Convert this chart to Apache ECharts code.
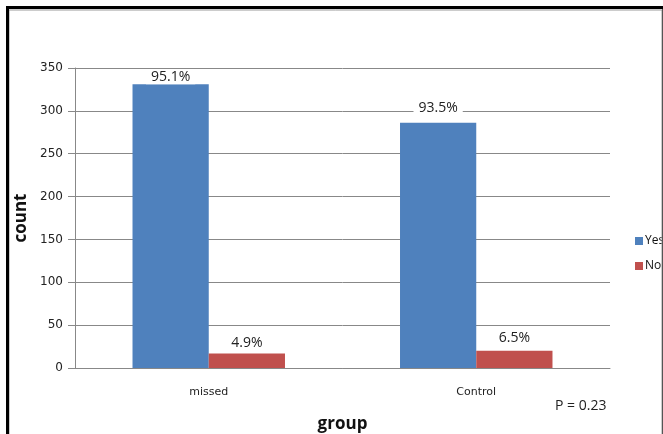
<!DOCTYPE html>
<html>
<head>
<meta charset="utf-8">
<script src="https://cdn.jsdelivr.net/npm/echarts@6/dist/echarts.min.js"></script>
<style>
  html, body { margin: 0; padding: 0; background: #fff; }
  #chart { width: 663px; height: 434px; }
</style>
</head>
<body>
<div id="chart"></div>
<script>
// data
const groups = ['missed', 'Control']
const yesCounts = [331, 286]
const noCounts = [17, 20]
const yesPct = ['95.1%', '93.5%']
const noPct = ['4.9%', '6.5%']
const seriesNames = ['Yes', 'No']
const yTicks = [0, 50, 100, 150, 200, 250, 300, 350]

const chart = echarts.init(document.getElementById('chart'))

const labelFont = { fontFamily: 'Open Sans', fontSize: 14, color: '#222' }

const option = {
  animation: false,
  grid: { left: 75, right: 53, top: 68, bottom: 66, outerBoundsMode: 'none', containLabel: false },
  legend: {
    orient: 'vertical',
    left: 630,
    top: 230,
    itemWidth: 8,
    itemHeight: 8,
    itemGap: 13,
    icon: 'rect',
    data: seriesNames,
    textStyle: { fontFamily: 'Open Sans', fontSize: 12, color: '#111', padding: [0, 0, 0, -3] }
  },
  xAxis: {
    type: 'category',
    data: groups,
    name: 'group',
    nameLocation: 'middle',
    nameGap: 48,
    nameTextStyle: { fontFamily: 'Open Sans', fontWeight: 'bold', fontSize: 17, color: '#111' },
    axisLine: { lineStyle: { color: '#888' } },
    axisTick: { show: false },
    axisLabel: { margin: 19, fontFamily: 'DejaVu Sans', fontSize: 11, color: '#222' }
  },
  yAxis: {
    type: 'value',
    min: yTicks[0],
    max: yTicks[yTicks.length - 1],
    interval: 50,
    name: 'count',
    nameLocation: 'middle',
    nameGap: 45,
    nameTextStyle: { fontFamily: 'Open Sans', fontWeight: 'bold', fontSize: 17, color: '#111' },
    axisLine: { show: true, lineStyle: { color: '#888' } },
    axisTick: { show: true, length: 7, lineStyle: { color: '#888' } },
    axisLabel: { margin: 12, fontFamily: 'DejaVu Sans', fontSize: 12, color: '#222' },
    splitLine: { lineStyle: { color: '#888' } }
  },
  series: [
    {
      name: seriesNames[0],
      type: 'bar',
      barGap: 0,
      barCategoryGap: '43%',
      itemStyle: { color: '#4F81BD' },
      data: yesCounts.map((v, i) => ({
        value: v,
        label: {
          show: true,
          position: 'top',
          distance: i === 0 ? 0 : 8,
          formatter: yesPct[i],
          backgroundColor: '#fff',
          padding: [0, 5],
          ...labelFont
        }
      }))
    },
    {
      name: seriesNames[1],
      type: 'bar',
      itemStyle: { color: '#C0504D' },
      data: noCounts.map((v, i) => ({
        value: v,
        label: {
          show: true,
          position: 'top',
          distance: i === 0 ? 3 : 6,
          formatter: noPct[i],
          backgroundColor: '#fff',
          padding: [0, 5],
          ...labelFont
        }
      }))
    }
  ],
  graphic: [
    {
      type: 'text',
      left: 555,
      top: 399,
      style: { text: 'P = 0.23', fontFamily: 'Open Sans', fontSize: 14, fill: '#222' }
    },
    // frame around the picture
    { type: 'rect', shape: { x: 9, y: 10, width: 653, height: 440 }, style: { fill: 'none', stroke: '#999', lineWidth: 1 }, z: 100 },
    { type: 'line', shape: { x1: 6, y1: 7.5, x2: 663, y2: 7.5 }, style: { stroke: '#000', lineWidth: 3 }, z: 101 },
    { type: 'line', shape: { x1: 7.5, y1: 6, x2: 7.5, y2: 434 }, style: { stroke: '#000', lineWidth: 3 }, z: 101 },
    { type: 'line', shape: { x1: 662.5, y1: 9, x2: 662.5, y2: 434 }, style: { stroke: '#555', lineWidth: 1 }, z: 101 }
  ]
}

chart.setOption(option)
</script>
</body>
</html>
